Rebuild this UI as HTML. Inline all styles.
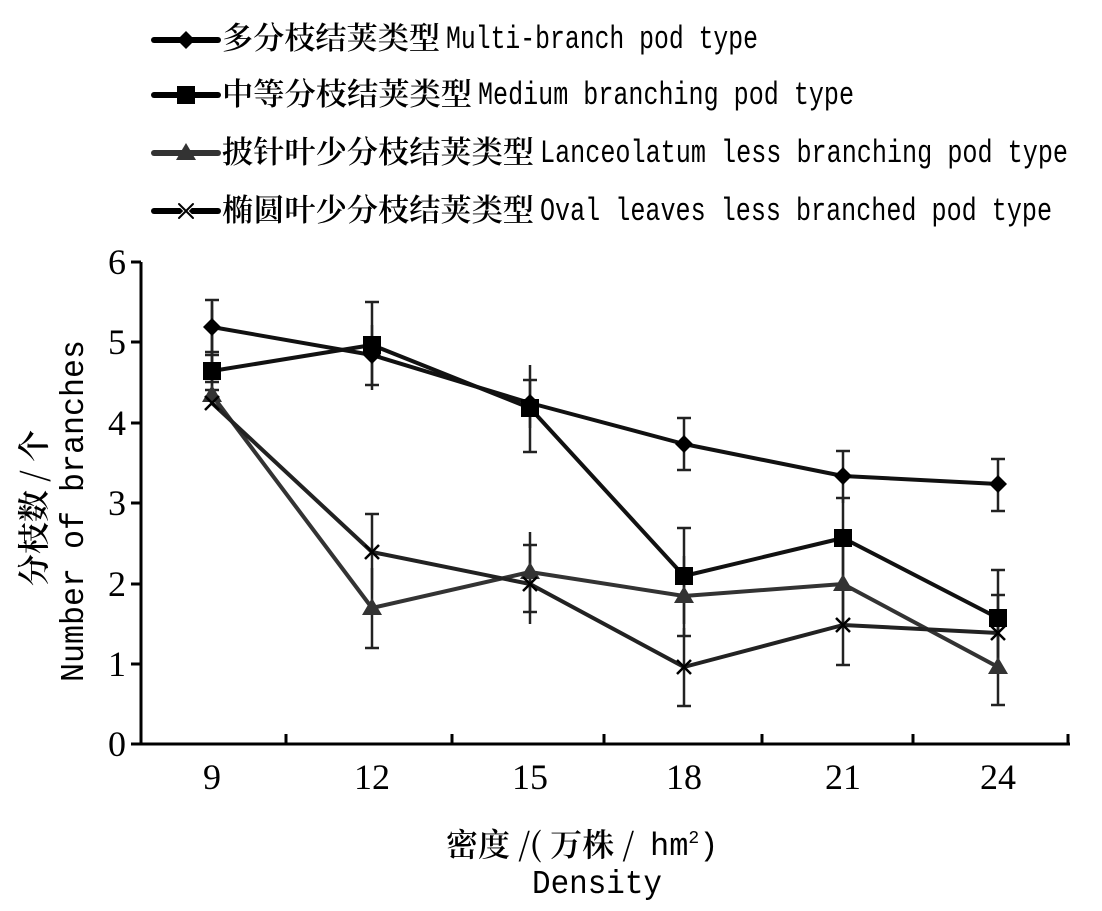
<!DOCTYPE html>
<html><head><meta charset="utf-8"><style>
html,body{margin:0;padding:0;background:#fff;}
svg text{font-family:"Liberation Mono","Noto Serif CJK SC",monospace;fill:#000;}
svg text.cjk{font-family:"Noto Serif CJK SC","Noto Sans CJK SC",serif;font-weight:600;}
svg text.ser{font-family:"Liberation Serif",serif;}
</style></head><body>
<svg width="1102" height="906" viewBox="0 0 1102 906" xmlns="http://www.w3.org/2000/svg">
<g stroke-width="6" stroke-linecap="round">
<line x1="154" y1="40" x2="218" y2="40" stroke="#000"/>
<path d="M186 31 L195 40 L186 49 L177 40Z" fill="#000"/>
<line x1="154" y1="95" x2="218" y2="95" stroke="#000"/>
<rect x="177" y="86" width="18" height="18" fill="#000"/>
<line x1="154" y1="153" x2="218" y2="153" stroke="#333"/>
<path d="M186 143 L196 160 L176 160Z" fill="#333"/>
<line x1="154" y1="211" x2="218" y2="211" stroke="#000"/>
<path d="M179 204 L193 218 M193 204 L179 218" stroke="#fff" stroke-width="4"/>
<path d="M179 204 L193 218 M193 204 L179 218" stroke="#000" stroke-width="2"/>
</g>
<g font-size="31">
<text class="cjk" x="222" y="49" textLength="218" lengthAdjust="spacingAndGlyphs">多分枝结荚类型</text>
<text x="446" y="48" font-size="32" textLength="312" lengthAdjust="spacingAndGlyphs">Multi-branch pod type</text>
<text class="cjk" x="222" y="105" textLength="250" lengthAdjust="spacingAndGlyphs">中等分枝结荚类型</text>
<text x="478" y="104" font-size="32" textLength="376" lengthAdjust="spacingAndGlyphs">Medium branching pod type</text>
<text class="cjk" x="222" y="163" textLength="312" lengthAdjust="spacingAndGlyphs">披针叶少分枝结荚类型</text>
<text x="540" y="162" font-size="32" textLength="528" lengthAdjust="spacingAndGlyphs">Lanceolatum less branching pod type</text>
<text class="cjk" x="222" y="221" textLength="312" lengthAdjust="spacingAndGlyphs">椭圆叶少分枝结荚类型</text>
<text x="540" y="220" font-size="32" textLength="512" lengthAdjust="spacingAndGlyphs">Oval leaves less branched pod type</text>
</g>
<g stroke="#000" stroke-width="3">
<line x1="141" y1="262" x2="141" y2="745"/>
<line x1="139" y1="744" x2="1070" y2="744"/>
<line x1="131" y1="262" x2="141" y2="262"/>
<line x1="131" y1="342" x2="141" y2="342"/>
<line x1="131" y1="423" x2="141" y2="423"/>
<line x1="131" y1="503" x2="141" y2="503"/>
<line x1="131" y1="584" x2="141" y2="584"/>
<line x1="131" y1="664" x2="141" y2="664"/>
<line x1="131" y1="744" x2="141" y2="744"/>
<line x1="286" y1="734" x2="286" y2="744"/>
<line x1="452" y1="734" x2="452" y2="744"/>
<line x1="604" y1="734" x2="604" y2="744"/>
<line x1="762" y1="734" x2="762" y2="744"/>
<line x1="913" y1="734" x2="913" y2="744"/>
<line x1="1068" y1="734" x2="1068" y2="744"/>
</g>
<g font-size="36" text-anchor="end">
<text class="ser" x="126" y="274">6</text><text class="ser" x="126" y="354">5</text><text class="ser" x="126" y="435">4</text><text class="ser" x="126" y="515">3</text><text class="ser" x="126" y="596">2</text><text class="ser" x="126" y="676">1</text><text class="ser" x="126" y="756">0</text>
</g>
<g font-size="36" text-anchor="middle">
<text class="ser" x="212" y="789">9</text><text class="ser" x="372" y="789">12</text><text class="ser" x="530" y="789">15</text><text class="ser" x="684" y="789">18</text><text class="ser" x="843" y="789">21</text><text class="ser" x="998" y="789">24</text>
</g>
<text class="cjk" font-size="32" transform="translate(45,508) rotate(-90)" text-anchor="middle">分枝数 / 个</text>
<text font-size="33" transform="translate(83,511) rotate(-90)" text-anchor="middle" textLength="342" lengthAdjust="spacingAndGlyphs">Number of branches</text>
<text class="cjk" x="446" y="856" font-size="32">密度 /( 万株 /</text>
<text x="650" y="855" font-size="32">hm<tspan font-size="18" dy="-12">2</tspan><tspan dy="12">)</tspan></text>
<text x="597" y="893" font-size="33" text-anchor="middle" textLength="130" lengthAdjust="spacingAndGlyphs">Density</text>
<g stroke="#222" stroke-width="2.5">
<path d="M212 300V355M205 300H219M205 355H219 M372 325V385M365 385H379 M530 380V428M523 380H537 M684 418V470M677 418H691M677 470H691 M843 451V503M836 451H850 M998 459V511M991 459H1005M991 511H1005"/>
<path d="M212 352V390M205 352H219 M372 302V390M365 302H379 M530 365V452M523 452H537 M684 528V624M677 528H691 M843 498V580M836 498H850 M998 570V666M991 570H1005"/>
<path d="M212 310V390M205 390H219 M372 568V648M365 648H379 M530 532V612M523 612H537 M684 556V636M677 636H691 M843 544V624M836 544H850 M998 627V705M991 705H1005"/>
<path d="M212 302V382M205 382H219 M372 514V590M365 514H379 M530 545V624M523 545H537 M684 628V706M677 706H691 M843 585V665M836 665H850 M998 595V673M991 595H1005"/>
</g>
<g fill="none" stroke-width="4" stroke-linejoin="round">
<polyline stroke="#111" points="212,327 372,355 530,403 684,444 843,476 998,484"/>
<polyline stroke="#111" points="212,371 372,345 530,408 684,576 843,538 998,618"/>
<polyline stroke="#333" points="212,395 372,608 530,572 684,596 843,584 998,667"/>
<polyline stroke="#222" points="212,403 372,552 530,584 684,667 843,625 998,633"/>
</g>
<g fill="#000">
<path d="M212 318l9 9-9 9-9-9Z M372 346l9 9-9 9-9-9Z M530 394l9 9-9 9-9-9Z M684 435l9 9-9 9-9-9Z M843 467l9 9-9 9-9-9Z M998 475l9 9-9 9-9-9Z"/>
<path d="M203 362h18v18h-18Z M363 336h18v18h-18Z M521 399h18v18h-18Z M675 567h18v18h-18Z M834 529h18v18h-18Z M989 609h18v18h-18Z"/>
</g>
<g fill="#333">
<path d="M212 385l10 17h-20Z M372 598l10 17h-20Z M530 562l10 17h-20Z M684 586l10 17h-20Z M843 574l10 17h-20Z M998 657l10 17h-20Z"/>
</g>
<g stroke="#000" stroke-width="2.5">
<path d="M205 396l14 14m0-14l-14 14 M365 545l14 14m0-14l-14 14 M523 577l14 14m0-14l-14 14 M677 660l14 14m0-14l-14 14 M836 618l14 14m0-14l-14 14 M991 626l14 14m0-14l-14 14"/>
</g>
</svg>
</body></html>
